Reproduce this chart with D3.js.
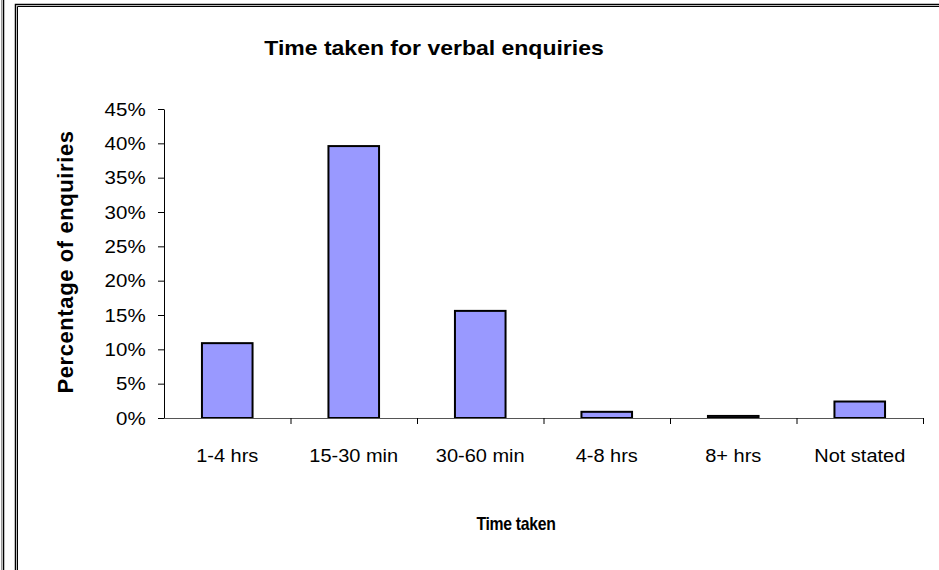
<!DOCTYPE html>
<html>
<head>
<meta charset="utf-8">
<script src="https://cdn.jsdelivr.net/npm/d3@7"></script>
<style>
  body { margin: 0; background: #fff; }
  text { font-family: "Liberation Sans", Arial, sans-serif; fill: #000; }
</style>
</head>
<body>
<div id="chart"></div>
<script>
// Chart data
const categories = ["1-4 hrs", "15-30 min", "30-60 min", "4-8 hrs", "8+ hrs", "Not stated"];
const values = [0.109, 0.396, 0.156, 0.009, 0.003, 0.024];
const yTicks = [0, 0.05, 0.10, 0.15, 0.20, 0.25, 0.30, 0.35, 0.40, 0.45];

const W = 939, H = 570;
const plot = { left: 164, right: 923, top: 109, bottom: 418 };

const svg = d3.select("#chart")
  .append("svg")
  .attr("width", W)
  .attr("height", H);

// frame lines (sheet borders)
svg.append("line").attr("x1", 1.5).attr("x2", 1.5).attr("y1", 0).attr("y2", H)
  .attr("stroke", "#999").attr("stroke-width", 1);
svg.append("line").attr("x1", 3.5).attr("x2", 3.5).attr("y1", 0).attr("y2", H)
  .attr("stroke", "#000").attr("stroke-width", 1.5);
svg.append("path").attr("d", `M15.5,${H} V4.5 H${W}`)
  .attr("fill", "none").attr("stroke", "#000").attr("stroke-width", 1.5);
svg.append("path").attr("d", `M17.5,${H} V6.5 H${W}`)
  .attr("fill", "none").attr("stroke", "#000").attr("stroke-width", 1);
svg.append("path").attr("d", `M16.5,${H} V5.5 H${W}`)
  .attr("fill", "none").attr("stroke", "#bbb").attr("stroke-width", 1);

// scales
const x = d3.scaleBand()
  .domain(categories)
  .range([plot.left, plot.right])
  .paddingInner(0.6)
  .paddingOuter(0.3);

const y = d3.scaleLinear()
  .domain([0, 0.45])
  .range([plot.bottom, plot.top]);

// bars
svg.selectAll("rect.bar")
  .data(categories)
  .enter()
  .append("rect")
  .attr("class", "bar")
  .attr("x", d => x(d))
  .attr("width", x.bandwidth())
  .attr("y", (d, i) => y(values[i]))
  .attr("height", (d, i) => plot.bottom - y(values[i]))
  .attr("fill", "#9999ff")
  .attr("stroke", "#000")
  .attr("stroke-width", 2);

// y axis
const yAxis = d3.axisLeft(y)
  .tickValues(yTicks)
  .tickFormat(d3.format(".0%"))
  .tickSize(6)
  .tickSizeOuter(0);

const gy = svg.append("g")
  .attr("transform", `translate(${plot.left},0)`)
  .call(yAxis);
gy.select(".domain").attr("stroke", "#000");
gy.selectAll(".tick line").attr("stroke", "#000");
gy.selectAll(".tick text")
  .style("font-size", "19px")
  .attr("transform", "scale(1.08,1)")
  .attr("x", -17);

// x axis (ticks between categories)
const boundaries = d3.range(categories.length + 1).map(i => plot.left + i * (plot.right - plot.left) / categories.length);
const gx = svg.append("g");
gx.append("line")
  .attr("x1", plot.left).attr("x2", plot.right)
  .attr("y1", plot.bottom + 0.5).attr("y2", plot.bottom + 0.5)
  .attr("stroke", "#555");
gx.selectAll("line.tk")
  .data(boundaries.slice(1))
  .enter()
  .append("line")
  .attr("class", "tk")
  .attr("x1", d => d + 0.5).attr("x2", d => d + 0.5)
  .attr("y1", plot.bottom).attr("y2", plot.bottom + 6)
  .attr("stroke", "#000");
gx.selectAll("text")
  .data(categories)
  .enter()
  .append("text")
  .attr("transform", d => `translate(${x(d) + x.bandwidth() / 2},462) scale(1.08,1)`)
  .attr("text-anchor", "middle")
  .style("font-size", "18.5px")
  .text(d => d);

// title
svg.append("text")
  .attr("transform", "translate(434,55) scale(1.15,1)")
  .attr("text-anchor", "middle")
  .style("font-size", "20px")
  .style("font-weight", "bold")
  .text("Time taken for verbal enquiries");

// axis titles
svg.append("text")
  .attr("transform", "translate(516,530) scale(0.9,1)")
  .attr("text-anchor", "middle")
  .style("font-size", "17.5px")
  .style("font-weight", "bold")
  .style("letter-spacing", "-0.3px")
  .text("Time taken");

svg.append("text")
  .attr("transform", "translate(73,262) rotate(-90)")
  .attr("text-anchor", "middle")
  .style("font-size", "22px")
  .style("font-weight", "bold")
  .style("letter-spacing", "0.6px")
  .text("Percentage of enquiries");
</script>
</body>
</html>
